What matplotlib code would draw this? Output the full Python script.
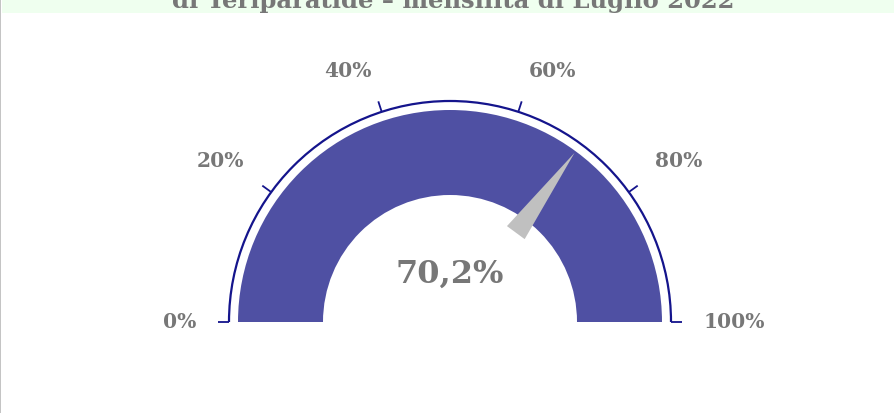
import numpy as np
import matplotlib
matplotlib.use("Agg")
import matplotlib.pyplot as plt
from matplotlib.patches import Wedge, Arc, Polygon, Rectangle

# ---- data ----
title = "di Teriparatide – mensilità di Luglio 2022"
value = 70.2
value_label = "70,2%"
tick_values = [0, 20, 40, 60, 80, 100]
tick_labels = ["0%", "20%", "40%", "60%", "80%", "100%"]
vmin, vmax = 0, 100

W, H = 895, 414
fig = plt.figure(figsize=(W / 100, H / 100), dpi=100)
ax = fig.add_axes([0, 0, 1, 1])
ax.set_xlim(0, W)
ax.set_ylim(0, H)
ax.set_aspect("equal")
ax.axis("off")

def ang(v):
    return np.pi * (1 - (v - vmin) / (vmax - vmin))

cx, cy = 450, H - 323
r_out, r_in = 212, 127
r_arc = 221
tick_len = 11
label_r = 254
grey = "#777777"
navy = "#14148c"
font = "DejaVu Serif"

# header band and left border
ax.add_patch(Rectangle((2, H - 14), W - 2, 14, color="#efffef", lw=0, zorder=0))
ax.add_patch(Rectangle((0, 0), 1.5, H, color="#c4c4c4", lw=0, zorder=1))
ax.text(453, H - 7.5, title, ha="center", va="baseline", fontsize=17.5,
        fontweight="bold", color=grey, family=font, clip_on=False)

# gauge band
ax.add_patch(Wedge((cx, cy), r_out, 0, 180, width=r_out - r_in,
                   facecolor="#4f50a3", edgecolor="none", zorder=2))

# scale arc
ax.add_patch(Arc((cx, cy), 2 * r_arc, 2 * r_arc, theta1=0, theta2=180,
                 color=navy, lw=1.6, zorder=3))
for v, lab in zip(tick_values, tick_labels):
    a = ang(v)
    c, s = np.cos(a), np.sin(a)
    ax.plot([cx + r_arc * c, cx + (r_arc + tick_len) * c],
            [cy + r_arc * s, cy + (r_arc + tick_len) * s],
            color=navy, lw=1.3, zorder=3, solid_capstyle="butt")
    lx, ly = cx + label_r * c, cy + label_r * s
    ha = "right" if c < -0.05 else ("left" if c > 0.05 else "center")
    if s > 0.1:
        va, dy = "bottom", 7.5 * (1 - s)
    else:
        va, dy = "center", 1
    ax.text(lx, ly + dy, lab, ha=ha, va=va,
            fontsize=14.6, fontweight="bold", color=grey, family=font)

# needle
a = ang(value)
c, s = np.cos(a), np.sin(a)
px, py = -s, c
tip_r, base_r, hw = 210, 111, 11
needle = Polygon([[cx + tip_r * c, cy + tip_r * s],
                  [cx + base_r * c + hw * px, cy + base_r * s + hw * py],
                  [cx + base_r * c - hw * px, cy + base_r * s - hw * py]],
                 closed=True, facecolor="#c0c0c0", edgecolor="none", zorder=4)
ax.add_patch(needle)

# value label
ax.text(cx, H - 274, value_label, ha="center", va="center", fontsize=23,
        fontweight="bold", color=grey, family=font, zorder=5)

fig.savefig("out.png", dpi=100)
